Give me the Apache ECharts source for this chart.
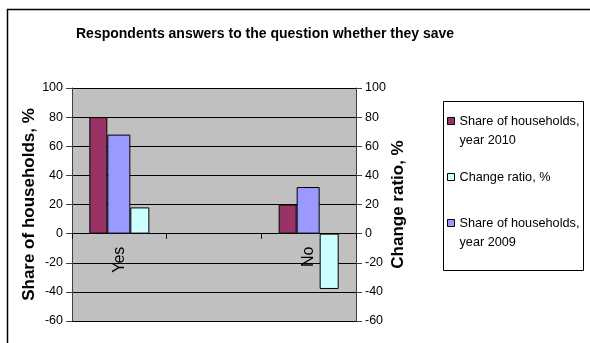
<!DOCTYPE html>
<html>
<head>
<meta charset="utf-8">
<script src="https://cdn.jsdelivr.net/npm/echarts@6/dist/echarts.min.js"></script>
<style>
  html, body { margin: 0; padding: 0; background: #ffffff; }
  #chart { width: 590px; height: 343px; }
</style>
</head>
<body>
<div id="chart"></div>
<script>
// Survey answers: share of households that save, by year, and the change between years
const categories = ['Yes', '', 'No'];
const share2010 = [80, null, 20];
const share2009 = [68, null, 32];
const changeRatio = [18, null, -38];
const axisTicks = { min: -60, max: 100, step: 20 };

const seriesNames = {
  y2010: 'Share of households,\nyear 2010',
  change: 'Change ratio, %',
  y2009: 'Share of households,\nyear 2009'
};

const font = "'Liberation Sans', Arial, sans-serif";

// Plot box in pixels
const plot = { left: 72, right: 234, top: 88, bottom: 22, height: 343 - 88 - 22 };
// Lift the category axis from the bottom edge to the zero line of the value axes
const zeroLift = plot.height * (0 - axisTicks.min) / (axisTicks.max - axisTicks.min);

const chart = echarts.init(document.getElementById('chart'), null, { renderer: 'canvas' });

// One legend block per entry so the vertical spacing can follow the layout;
// two-line names get an empty leading line so the swatch sits beside the first line.
function legendAt(name, top) {
  return {
    orient: 'vertical',
    left: 447,
    top: top,
    padding: 0,
    itemWidth: 7,
    itemHeight: 7,
    itemGap: 0,
    selectedMode: false,
    icon: 'rect',
    itemStyle: { borderColor: '#000', borderWidth: 1 },
    formatter: n => (n.indexOf('\n') >= 0 ? '\n' + n : n),
    textStyle: { fontFamily: font, fontSize: 12.7, color: '#000', lineHeight: 19 },
    data: [{ name: name }]
  };
}

const valueAxisBase = {
  type: 'value',
  min: axisTicks.min,
  max: axisTicks.max,
  interval: axisTicks.step,
  nameLocation: 'middle',
  nameRotate: 90,
  nameTextStyle: { fontFamily: font, fontSize: 17, fontWeight: 'bold', color: '#000' },
  axisLine: { show: true, lineStyle: { color: '#404040', width: 1 } },
  axisTick: { show: true, length: 6, lineStyle: { color: '#404040' } },
  axisLabel: { fontFamily: font, fontSize: 12.5, color: '#000', margin: 9 }
};

chart.setOption({
  animation: false,
  backgroundColor: '#ffffff',
  title: {
    text: 'Respondents answers to the question whether they save',
    left: 76,
    top: 27,
    padding: 0,
    textStyle: { fontFamily: font, fontSize: 14, fontWeight: 'bold', color: '#000' }
  },
  legend: [
    legendAt(seriesNames.y2010, 92.5),
    legendAt(seriesNames.change, 167.5),
    legendAt(seriesNames.y2009, 194.5)
  ],
  grid: {
    left: plot.left, right: plot.right, top: plot.top, bottom: plot.bottom,
    show: true, backgroundColor: '#C0C0C0', borderWidth: 0
  },
  xAxis: {
    type: 'category',
    data: categories,
    boundaryGap: true,
    position: 'bottom',
    offset: -zeroLift,
    axisLine: { onZero: false, lineStyle: { color: '#000', width: 1 } },
    axisTick: { show: true, length: 5, interval: 0, lineStyle: { color: '#000' } },
    axisLabel: {
      interval: 0, rotate: 90, margin: 13,
      fontFamily: font, fontSize: 16, color: '#000'
    },
    splitLine: { show: false }
  },
  yAxis: [
    Object.assign({}, valueAxisBase, {
      position: 'left',
      name: 'Share of households, %',
      nameGap: 33,
      splitLine: { show: true, lineStyle: { color: '#000', width: 1 } }
    }),
    Object.assign({}, valueAxisBase, {
      position: 'right',
      name: 'Change ratio, %',
      nameGap: 33,
      splitLine: { show: false }
    })
  ],
  series: [
    {
      name: seriesNames.y2010, type: 'bar', yAxisIndex: 0, data: share2010,
      barWidth: 18, barGap: '0%',
      itemStyle: { color: '#993366', borderColor: '#000', borderWidth: 1 }
    },
    {
      name: seriesNames.y2009, type: 'bar', yAxisIndex: 0, data: share2009,
      barWidth: 23, barGap: '0%',
      itemStyle: { color: '#9999FF', borderColor: '#000', borderWidth: 1 }
    },
    {
      name: seriesNames.change, type: 'bar', yAxisIndex: 1, data: changeRatio,
      barWidth: 19, barGap: '0%',
      itemStyle: { color: '#CCFFFF', borderColor: '#000', borderWidth: 1 }
    }
  ],
  graphic: [
    {
      type: 'rect', silent: true, z: -1,
      shape: { x: 7.5, y: 9.5, width: 700, height: 500 },
      style: { fill: null, stroke: '#000', lineWidth: 1.5 }
    },
    {
      type: 'rect', silent: true,
      shape: { x: 443.5, y: 101.5, width: 140, height: 169 },
      style: { fill: null, stroke: '#000', lineWidth: 1 }
    }
  ]
});
</script>
</body>
</html>
